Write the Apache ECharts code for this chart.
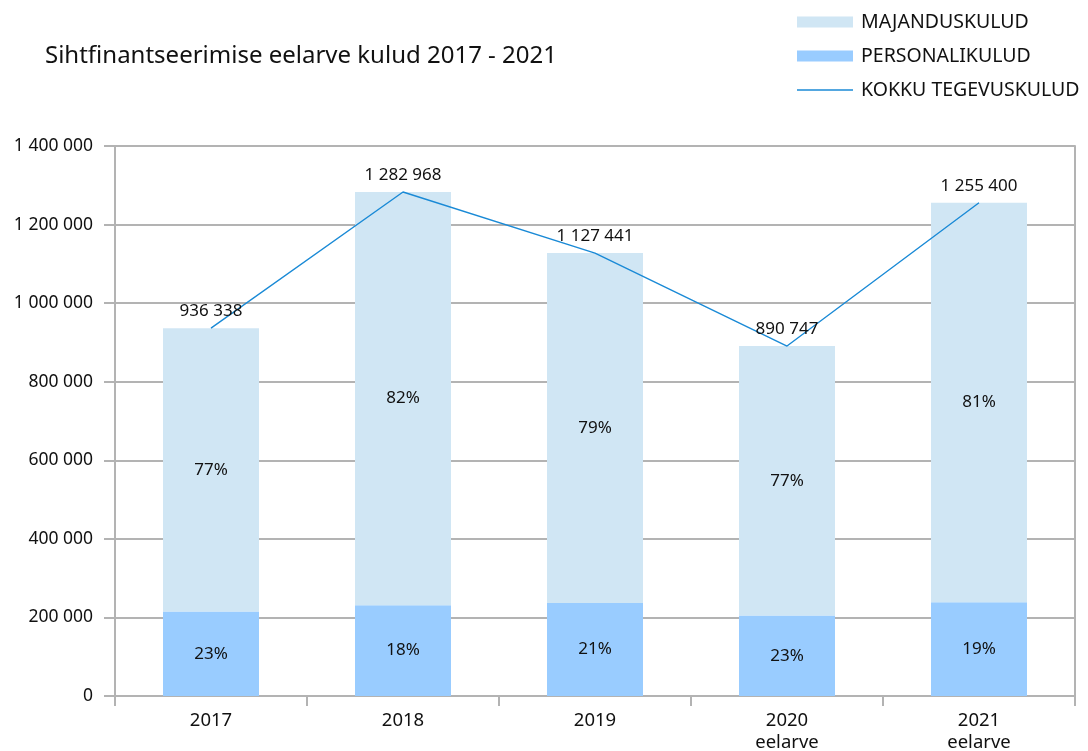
<!DOCTYPE html>
<html><head><meta charset="utf-8">
<script src="https://cdn.jsdelivr.net/npm/echarts@6/dist/echarts.min.js"></script>
<style>html,body{margin:0;padding:0;background:#fff}#c{width:1088px;height:751px}</style>
</head><body><div id="c"></div>
<script>
var categories = ['2017', '2018', '2019', '2020\neelarve', '2021\neelarve'];
var personalikulud = [215000, 231000, 237000, 205000, 238500];
var majanduskulud = [721338, 1051968, 890441, 685747, 1016900];
var kokku = [936338, 1282968, 1127441, 890747, 1255400];
var personalPct = ['23%', '18%', '21%', '23%', '19%'];
var majandusPct = ['77%', '82%', '79%', '77%', '81%'];
var yTicks = [0, 200000, 400000, 600000, 800000, 1000000, 1200000, 1400000];

var FONT = 'Noto Sans';
function fmt(v){ return String(v).replace(/\B(?=(\d{3})+(?!\d))/g, ' '); }
var gray = '#b3b3b3';
var lineColor = '#1a8ad6';

var chart = echarts.init(document.getElementById('c'), null, {renderer:'canvas'});
chart.setOption({
  animation: false,
  textStyle: {fontFamily: FONT},
  title: {
    text: 'Sihtfinantseerimise eelarve kulud 2017 - 2021',
    left: 40, top: 39,
    textStyle: {fontFamily: FONT, fontSize: 24, fontWeight: 'normal', color: '#111'}
  },
  legend: {
    orient: 'vertical', left: 797, top: 12, padding: 0,
    itemWidth: 56, itemHeight: 11, itemGap: 14,
    symbolKeepAspect: true,
    textStyle: {fontFamily: FONT, fontSize: 19.5, color: '#111', lineHeight: 20, padding: [0,0,0,3]},
    data: [
      {name: 'MAJANDUSKULUD', icon: 'rect'},
      {name: 'PERSONALIKULUD', icon: 'rect'},
      {name: 'KOKKU TEGEVUSKULUD', icon: 'path://M0,0H56V1.4H0Z', itemStyle: {color: lineColor}}
    ]
  },
  grid: {left: 115, right: 13, top: 146, bottom: 55, containLabel: false, outerBoundsMode: 'none'},
  xAxis: {
    type: 'category', data: categories, boundaryGap: true,
    axisLine: {lineStyle: {color: gray, width: 2}},
    axisTick: {show: true, length: 10, lineStyle: {color: gray, width: 2}},
    axisLabel: {fontFamily: FONT, fontSize: 18.5, color: '#111', margin: 14, lineHeight: 22}
  },
  yAxis: [{
    type: 'value', min: 0, max: 1400000, interval: 200000,
    axisLine: {show: true, lineStyle: {color: gray, width: 2}},
    axisTick: {show: true, length: 11, lineStyle: {color: gray, width: 2}},
    splitLine: {show: true, lineStyle: {color: gray, width: 2}},
    axisLabel: {fontFamily: FONT, fontSize: 17.5, color: '#111', margin: 22,
      formatter: function(v){ return fmt(v); }}
  }, {
    type: 'value', min: 0, max: 1400000, interval: 200000, position: 'right',
    axisLine: {show: true, lineStyle: {color: gray, width: 2}},
    axisTick: {show: false}, splitLine: {show: false}, axisLabel: {show: false}
  }],
  series: [
    {
      name: 'PERSONALIKULUD', type: 'bar', stack: 's', barWidth: '50%',
      data: personalikulud,
      itemStyle: {color: '#99ccff'},
      label: {show: true, position: 'inside', color: '#111', fontFamily: FONT, fontSize: 17,
        formatter: function(p){ return personalPct[p.dataIndex]; }}
    },
    {
      name: 'MAJANDUSKULUD', type: 'bar', stack: 's', barWidth: '50%',
      data: majanduskulud,
      itemStyle: {color: '#d0e6f4'},
      label: {show: true, position: 'inside', color: '#111', fontFamily: FONT, fontSize: 17,
        formatter: function(p){ return majandusPct[p.dataIndex]; }}
    },
    {
      name: 'KOKKU TEGEVUSKULUD', type: 'line', data: kokku,
      symbol: 'circle', symbolSize: 0.1, showSymbol: true, z: 5,
      lineStyle: {color: lineColor, width: 1.4},
      itemStyle: {color: lineColor},
      label: {show: true, position: 'top', distance: 8, color: '#111', fontFamily: FONT, fontSize: 17,
        formatter: function(p){ return fmt(p.value); }}
    }
  ]
});
</script>
</body></html>
